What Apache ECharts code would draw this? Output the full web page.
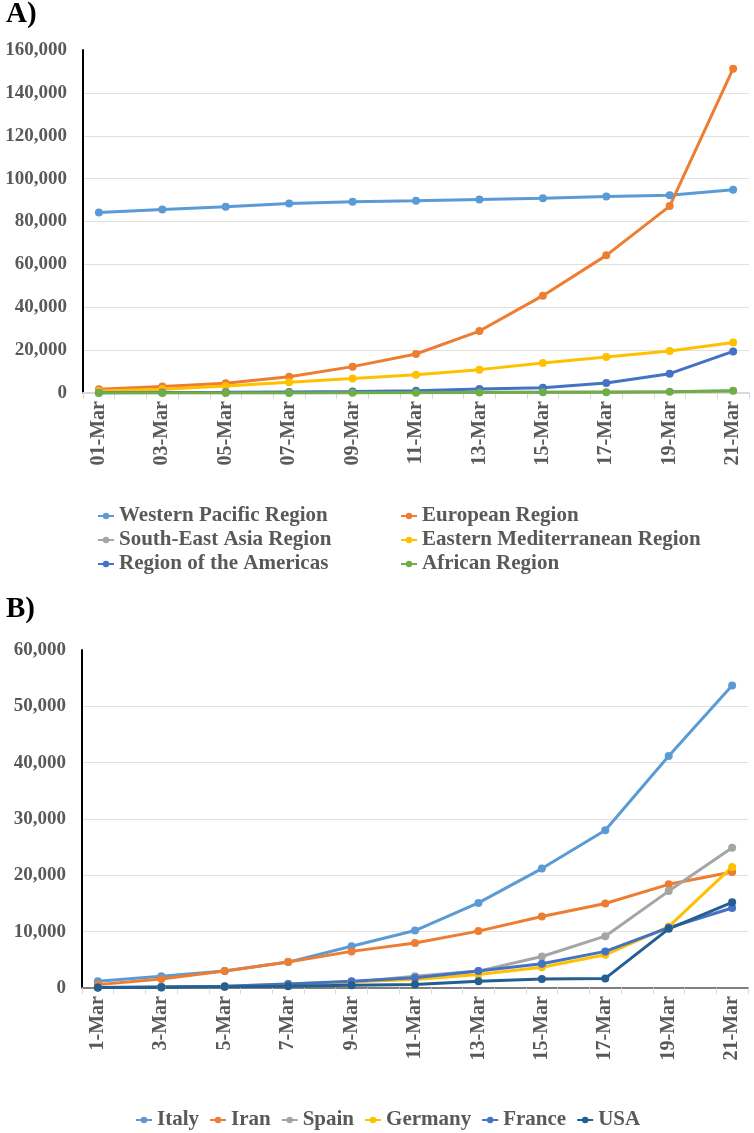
<!DOCTYPE html>
<html>
<head>
<meta charset="utf-8">
<script src="https://cdn.jsdelivr.net/npm/echarts@6/dist/echarts.min.js"></script>
<style>
  html, body { margin: 0; padding: 0; background: #fff; }
  #main { width: 754px; height: 1133px; }
</style>
</head>
<body>
<div id="main"></div>
<script>
// panel A: WHO regions, daily axis, points every other day
var daysA = ['01-Mar', '02-Mar', '03-Mar', '04-Mar', '05-Mar', '06-Mar', '07-Mar', '08-Mar', '09-Mar', '10-Mar', '11-Mar',
  '12-Mar', '13-Mar', '14-Mar', '15-Mar', '16-Mar', '17-Mar', '18-Mar', '19-Mar', '20-Mar', '21-Mar'];
var pointDaysA = ['01-Mar', '03-Mar', '05-Mar', '07-Mar', '09-Mar', '11-Mar', '13-Mar', '15-Mar', '17-Mar', '19-Mar', '21-Mar'];
var westernPacific = [84200, 85600, 86900, 88400, 89200, 89700, 90300, 90900, 91700, 92300, 94800];
var european = [1700, 3000, 4500, 7600, 12300, 18200, 28900, 45400, 64200, 87200, 151300];
var southEastAsia = [50, 60, 80, 100, 150, 200, 300, 400, 500, 600, 900];
var easternMed = [900, 1800, 3300, 5000, 6800, 8500, 10900, 14000, 16800, 19600, 23600];
var americas = [100, 200, 300, 500, 700, 1100, 1900, 2500, 4700, 9000, 19400];
var african = [0, 5, 20, 30, 60, 100, 200, 300, 400, 600, 1000];
var yTicksA = [0, 20000, 40000, 60000, 80000, 100000, 120000, 140000, 160000];

// panel B: countries
var daysB = ['1-Mar', '2-Mar', '3-Mar', '4-Mar', '5-Mar', '6-Mar', '7-Mar', '8-Mar', '9-Mar', '10-Mar', '11-Mar',
  '12-Mar', '13-Mar', '14-Mar', '15-Mar', '16-Mar', '17-Mar', '18-Mar', '19-Mar', '20-Mar', '21-Mar'];
var pointDaysB = ['1-Mar', '3-Mar', '5-Mar', '7-Mar', '9-Mar', '11-Mar', '13-Mar', '15-Mar', '17-Mar', '19-Mar', '21-Mar'];
var italy = [1200, 2100, 3000, 4600, 7400, 10200, 15100, 21200, 28000, 41200, 53700];
var iran = [600, 1600, 3000, 4600, 6500, 8000, 10100, 12700, 15000, 18400, 20600];
var spain = [100, 150, 250, 500, 1000, 2100, 3000, 5600, 9200, 17200, 24900];
var germany = [100, 150, 250, 700, 1100, 1500, 2400, 3700, 5900, 10900, 21500];
var france = [100, 200, 300, 700, 1200, 1800, 3000, 4300, 6500, 10700, 14200];
var usa = [70, 100, 200, 300, 500, 600, 1200, 1600, 1700, 10500, 15200];
var yTicksB = [0, 10000, 20000, 30000, 40000, 50000, 60000];

var serif = '"Liberation Serif", "Times New Roman", serif';
var grey = '#595959';

function pairs(days, vals) {
  return vals.map(function (v, i) { return [days[i], v]; });
}

function line(name, color, idx, days, vals, noSymbol) {
  return {
    name: name,
    type: 'line',
    xAxisIndex: idx,
    yAxisIndex: idx,
    data: pairs(days, vals),
    symbol: noSymbol ? 'none' : 'circle',
    symbolSize: 8,
    lineStyle: { width: 3, color: color },
    itemStyle: { color: color },
    connectNulls: true
  };
}

function xAxis(idx, cats, lineColor) {
  return {
    type: 'category',
    gridIndex: idx,
    data: cats,
    boundaryGap: true,
    axisLine: { lineStyle: { color: lineColor, width: 2 } },
    axisTick: { show: true, interval: 0, length: 6, lineStyle: { color: '#d9d9d9', width: 1 } },
    axisLabel: {
      interval: 1, rotate: 90, margin: 8,
      fontFamily: serif, fontWeight: 'bold', fontSize: 20, color: grey
    }
  };
}

function yAxis(idx, ticks) {
  return {
    type: 'value',
    gridIndex: idx,
    min: ticks[0],
    max: ticks[ticks.length - 1],
    interval: ticks[1] - ticks[0],
    axisLine: { show: true, lineStyle: { color: '#000', width: 2 } },
    axisTick: { show: false },
    splitLine: { show: true, showMaxLine: false, lineStyle: { color: '#e0e0e0', width: 1 } },
    axisLabel: {
      margin: 16,
      fontFamily: serif, fontWeight: 'bold', fontSize: 19, color: grey,
      formatter: function (v) { return v.toLocaleString('en-US'); }
    }
  };
}

var legendText = { fontFamily: serif, fontWeight: 'bold', fontSize: 21, color: grey, lineHeight: 24 };

var chart = echarts.init(document.getElementById('main'));
chart.setOption({
  animation: false,
  backgroundColor: '#fff',
  graphic: [
    { type: 'text', x: 6, y: 15, style: { text: 'A)', font: 'bold 29px ' + serif, fill: '#000', verticalAlign: 'middle' } },
    { type: 'text', x: 6, y: 610, style: { text: 'B)', font: 'bold 29px ' + serif, fill: '#000', verticalAlign: 'middle' } }
  ],
  grid: [
    { left: 83, top: 50, width: 666, height: 343 },
    { left: 82, top: 650, width: 666, height: 338 }
  ],
  xAxis: [xAxis(0, daysA, '#d9d9d9'), xAxis(1, daysB, '#808080')],
  yAxis: [yAxis(0, yTicksA), yAxis(1, yTicksB)],
  legend: [
    {
      orient: 'vertical', left: 97, top: 504, padding: 0, itemGap: 0, itemWidth: 16, itemHeight: 8,
      data: ['Western Pacific Region', 'South-East Asia Region', 'Region of the Americas'],
      textStyle: legendText
    },
    {
      orient: 'vertical', left: 400, top: 504, padding: 0, itemGap: 0, itemWidth: 16, itemHeight: 8,
      data: ['European Region', 'Eastern Mediterranean Region', 'African Region'],
      textStyle: legendText
    },
    {
      orient: 'horizontal', left: 135, top: 1108, padding: 0, itemGap: 10, itemWidth: 16, itemHeight: 8,
      data: ['Italy', 'Iran', 'Spain', 'Germany', 'France', 'USA'],
      textStyle: legendText
    }
  ],
  series: [
    line('Western Pacific Region', '#5B9BD5', 0, pointDaysA, westernPacific),
    line('European Region', '#ED7D31', 0, pointDaysA, european),
    line('South-East Asia Region', '#A5A5A5', 0, pointDaysA, southEastAsia, true),
    line('Eastern Mediterranean Region', '#FFC000', 0, pointDaysA, easternMed),
    line('Region of the Americas', '#4472C4', 0, pointDaysA, americas),
    line('African Region', '#70AD47', 0, pointDaysA, african),

    line('Italy', '#5B9BD5', 1, pointDaysB, italy),
    line('Iran', '#ED7D31', 1, pointDaysB, iran),
    line('Spain', '#A5A5A5', 1, pointDaysB, spain),
    line('Germany', '#FFC000', 1, pointDaysB, germany),
    line('France', '#4472C4', 1, pointDaysB, france),
    line('USA', '#255E91', 1, pointDaysB, usa)
  ]
});
</script>
</body>
</html>
